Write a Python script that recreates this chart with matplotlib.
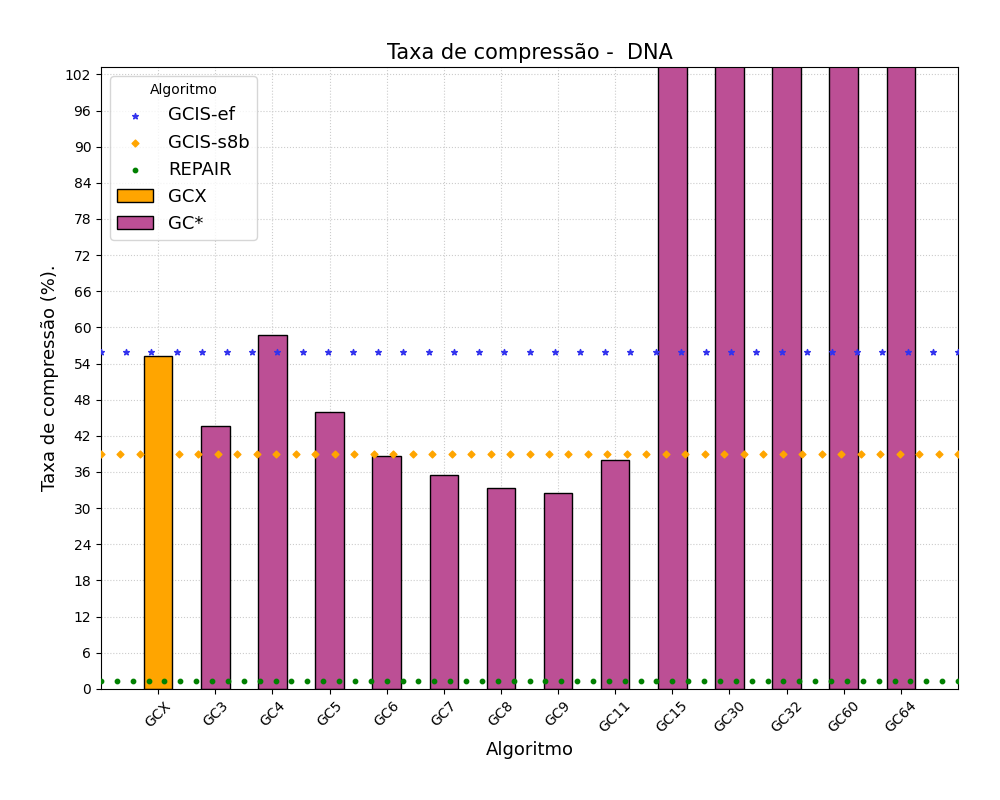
import numpy as np
import matplotlib
matplotlib.use("Agg")
import matplotlib.pyplot as plt

categories = ["GCX","GC3","GC4","GC5","GC6","GC7","GC8","GC9","GC11","GC15","GC30","GC32","GC60","GC64"]
values = [55.3,43.6,58.7,46.0,38.6,35.5,33.3,32.5,38.0,150,150,150,150,150]
gcis_ef = 55.9
gcis_s8b = 39.0
repair = 1.3

fig, ax = plt.subplots(figsize=(10,8), dpi=100)
fig.subplots_adjust(left=0.101, right=0.958, top=0.916, bottom=0.139)
pos = np.arange(1, len(categories)+1)
ax.bar(pos[:1], values[:1], width=0.5, color="orange", edgecolor="black", label="GCX", zorder=2)
ax.bar(pos[1:], values[1:], width=0.5, color="#bc4f95", edgecolor="black", label="GC*", zorder=2)

x1 = np.linspace(0, 15, 35)
x2 = np.linspace(0, 15, 45)
x3 = np.linspace(0, 15, 55)
ax.scatter(x1, [gcis_ef]*len(x1), marker="*", s=18, color="#3333ee", label="GCIS-ef", zorder=3)
ax.scatter(x2, [gcis_s8b]*len(x2), marker="D", s=12, color="orange", label="GCIS-s8b", zorder=3)
ax.scatter(x3, [repair]*len(x3), marker="o", s=10, color="green", label="REPAIR", zorder=3)

ax.set_xlim(0, 15)
ax.set_ylim(0, 103.2)
ax.set_yticks(np.arange(0, 103, 6))
ax.set_xticks(pos)
ax.set_xticklabels(categories, rotation=45)
ax.grid(True, linestyle=":", color="#cccccc", zorder=0)
ax.set_axisbelow(True)
ax.set_title("Taxa de compressão -  DNA", fontsize=15)
ax.set_xlabel("Algoritmo", fontsize=13)
ax.set_ylabel("Taxa de compressão (%).", fontsize=13)
h, l = ax.get_legend_handles_labels()
order = [l.index(n) for n in ["GCIS-ef","GCIS-s8b","REPAIR","GCX","GC*"]]
ax.legend([h[i] for i in order], [l[i] for i in order], title="Algoritmo", fontsize=13, loc="upper left")
fig.savefig("out.png")
